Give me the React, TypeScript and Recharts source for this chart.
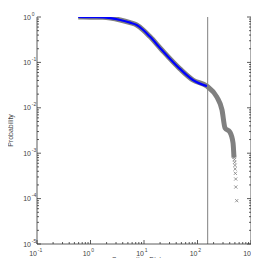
import React from 'react';
import { ComposedChart, Line, Scatter, XAxis, YAxis, ReferenceLine } from 'recharts';

const curveX = [0.59, 1.0, 1.7, 3.6, 5.5, 7.3, 9.7, 12.9, 21.4, 47, 82, 150, 230, 287, 327, 405, 461, 481];
const curveY = [1.0, 0.99, 0.985, 0.86, 0.75, 0.667, 0.517, 0.37, 0.19, 0.072, 0.041, 0.03, 0.0173, 0.009, 0.0036, 0.0029, 0.0017, 0.0008];
const blueCount = 12;
const tailX = [481, 490, 495, 502, 505, 510, 518, 520, 541];
const tailY = [8.1e-4, 7.2e-4, 6.3e-4, 5.4e-4, 4.5e-4, 3.6e-4, 2.7e-4, 1.8e-4, 9e-5];
const cutoff = 155;

const xDecades = [-1, 0, 1, 2, 3];
const yDecades = [-5, -4, -3, -2, -1, 0];
const minorSteps = [2, 3, 4, 5, 6, 7, 8, 9];

function buildTicks(decades: number[]) {
  const t: number[] = [];
  decades.forEach((d, i) => {
    t.push(Math.pow(10, d));
    if (i < decades.length - 1) minorSteps.forEach((m) => t.push(m * Math.pow(10, d)));
  });
  return t;
}
const xTicks = buildTicks(xDecades);
const yTicks = buildTicks(yDecades);

const grayData = curveX.map((x, i) => ({ x, y: curveY[i] }));
const blueData = grayData.slice(0, blueCount);
const tailData = tailX.map((x, i) => ({ x, y: tailY[i] }));

const FONT = 'Liberation Sans, Arial, sans-serif';
const LABEL = '#444';
const AXIS = '#333';

const isMajor = (v: number) => Math.abs(Math.log10(v) - Math.round(Math.log10(v))) < 1e-6;
const expOf = (v: number) => Math.round(Math.log10(v));

const XBottomTick = (props: any) => {
  const { x, y, payload } = props;
  const v = payload.value;
  const major = isMajor(v);
  return (
    <g>
      <line x1={x} y1={y} x2={x} y2={y - (major ? 4 : 2)} stroke={AXIS} strokeWidth={0.8} />
      {major && (
        <text x={x} y={y + 12} fontFamily={FONT} fontSize={7} fill={LABEL} textAnchor="end">
          10
        </text>
      )}
      {major && (
        <text x={x + 0.8} y={y + 8} fontFamily={FONT} fontSize={5} fill={LABEL} textAnchor="start">
          {String(expOf(v))}
        </text>
      )}
    </g>
  );
};

const XTopTick = (props: any) => {
  const { x, y, payload } = props;
  const major = isMajor(payload.value);
  return <line x1={x} y1={y} x2={x} y2={y + (major ? 4 : 2)} stroke={AXIS} strokeWidth={0.8} />;
};

const YLeftTick = (props: any) => {
  const { x, y, payload } = props;
  const v = payload.value;
  const major = isMajor(v);
  return (
    <g>
      <line x1={x} y1={y} x2={x + (major ? 4 : 2)} y2={y} stroke={AXIS} strokeWidth={0.8} />
      {major && (
        <text x={x - 6} y={y + 2.5} fontFamily={FONT} fontSize={7} fill={LABEL} textAnchor="end">
          10
        </text>
      )}
      {major && (
        <text x={x - 5.2} y={y - 1.5} fontFamily={FONT} fontSize={5} fill={LABEL} textAnchor="start">
          {String(expOf(v))}
        </text>
      )}
    </g>
  );
};

const YRightTick = (props: any) => {
  const { x, y, payload } = props;
  const major = isMajor(payload.value);
  return <line x1={x} y1={y} x2={x - (major ? 4 : 2)} y2={y} stroke={AXIS} strokeWidth={0.8} />;
};

const XMark = (props: any) => {
  const { cx, cy } = props;
  const s = 1.6;
  return (
    <g stroke="#808080" strokeWidth={0.8}>
      <line x1={cx - s} y1={cy - s} x2={cx + s} y2={cy + s} />
      <line x1={cx - s} y1={cy + s} x2={cx + s} y2={cy - s} />
    </g>
  );
};

export default function App() {
  return (
    <div style={{ height: 250 }}>
      <ComposedChart width={251} height={258} margin={{ top: 9, right: 0, bottom: 0, left: 0 }}>
        <XAxis
          xAxisId="b"
          dataKey="x"
          type="number"
          scale="log"
          domain={[0.1, 1000]}
          ticks={xTicks}
          interval={0}
          allowDataOverflow
          orientation="bottom"
          height={22}
          tickSize={0}
          tickMargin={0}
          tickLine={false}
          axisLine={{ stroke: AXIS, strokeWidth: 0.8 }}
          tick={XBottomTick}
          label={{ value: 'Commuting Distance', position: 'insideBottom', offset: 4, fontSize: 7, fill: LABEL, fontFamily: FONT }}
        />
        <XAxis
          xAxisId="t"
          type="number"
          scale="log"
          domain={[0.1, 1000]}
          ticks={xTicks}
          interval={0}
          allowDataOverflow
          orientation="top"
          height={0}
          tickSize={0}
          tickMargin={0}
          tickLine={false}
          axisLine={{ stroke: AXIS, strokeWidth: 0.8 }}
          tick={XTopTick}
        />
        <YAxis
          yAxisId="l"
          dataKey="y"
          type="number"
          scale="log"
          domain={[1e-5, 1]}
          ticks={yTicks}
          interval={0}
          allowDataOverflow
          orientation="left"
          width={29}
          tickSize={0}
          tickMargin={0}
          tickLine={false}
          axisLine={{ stroke: AXIS, strokeWidth: 0.8 }}
          tick={YLeftTick}
          label={{ value: 'Probability', angle: -90, position: 'insideLeft', offset: 0, dx: 3, fontSize: 7, fill: LABEL, fontFamily: FONT, style: { textAnchor: 'middle' } }}
        />
        <YAxis
          yAxisId="r"
          type="number"
          scale="log"
          domain={[1e-5, 1]}
          ticks={yTicks}
          interval={0}
          allowDataOverflow
          orientation="right"
          width={8}
          tickSize={0}
          tickMargin={0}
          tickLine={false}
          axisLine={{ stroke: AXIS, strokeWidth: 0.8 }}
          tick={YRightTick}
        />
        <ReferenceLine xAxisId="b" yAxisId="l" x={cutoff} stroke="#808080" strokeWidth={1} />
        <Line
          xAxisId="b"
          yAxisId="l"
          data={grayData}
          dataKey="y"
          type="monotone"
          stroke="#808080"
          strokeWidth={5}
          dot={false}
          isAnimationActive={false}
        />
        <Line
          xAxisId="b"
          yAxisId="l"
          data={blueData}
          dataKey="y"
          type="monotone"
          stroke="#0000ff"
          strokeWidth={2.2}
          dot={false}
          isAnimationActive={false}
        />
        <Scatter
          xAxisId="b"
          yAxisId="l"
          data={tailData}
          dataKey="y"
          shape={XMark}
          isAnimationActive={false}
        />
      </ComposedChart>
    </div>
  );
}
